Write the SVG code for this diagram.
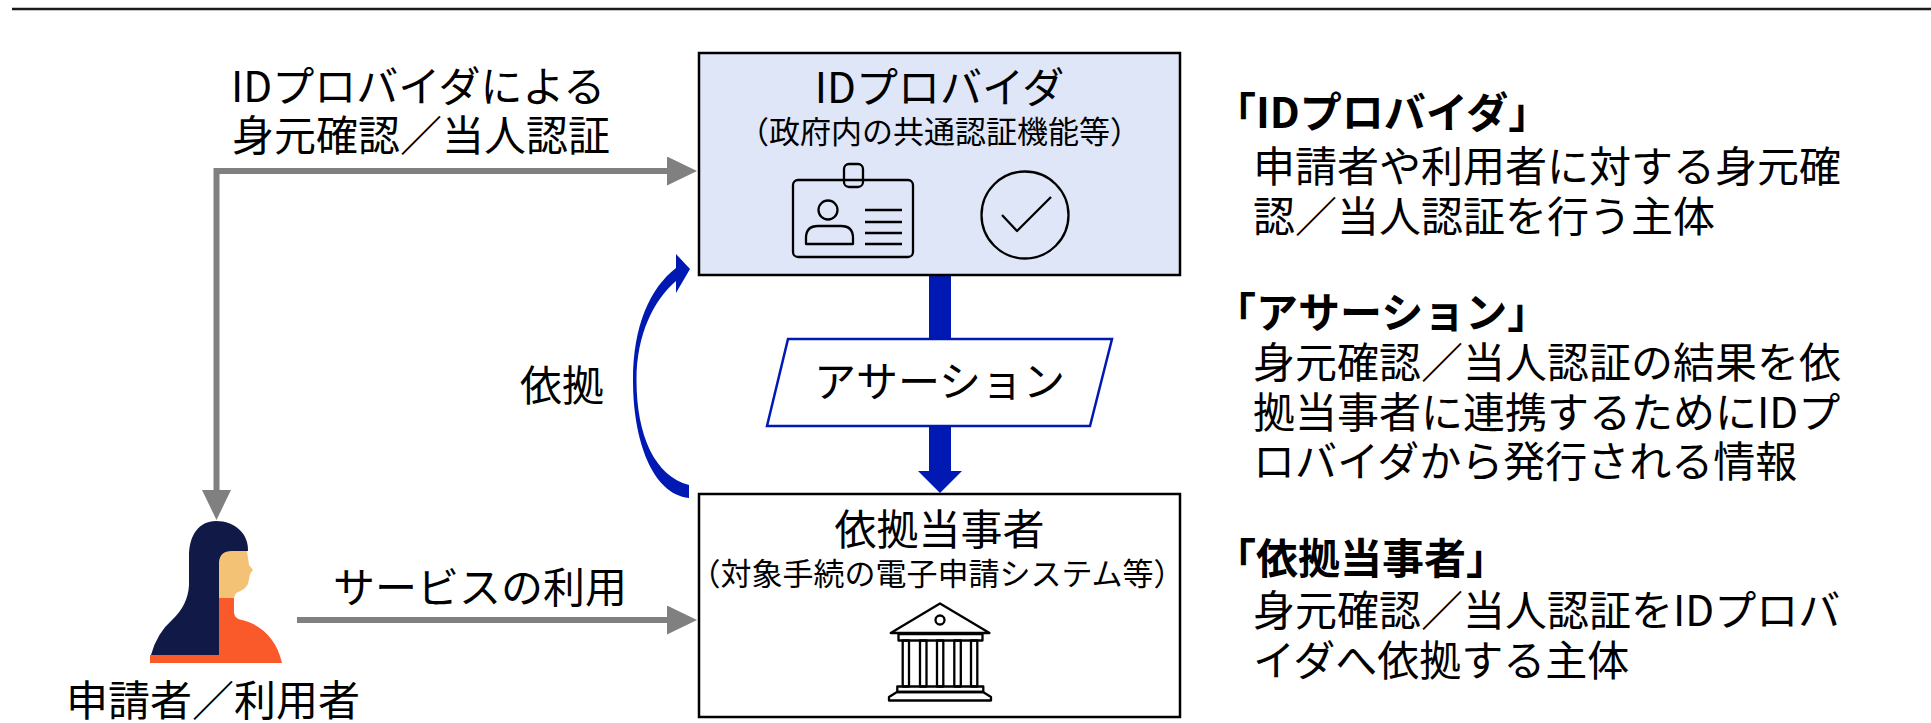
<svg xmlns="http://www.w3.org/2000/svg" width="1931" height="723" viewBox="0 0 1931 723">
  <style>
    text { font-family: "Noto Sans CJK JP", "Noto Sans", sans-serif; fill: #000; }
    .lg { font-size: 42px; }
    .sm { font-size: 31px; }
    .b { font-weight: 700; }
    .mid { text-anchor: middle; }
    .box { stroke: #000; stroke-width: 2.5; }
    .icon { fill: none; stroke: #000; stroke-width: 2.3; stroke-linejoin: round; }
    .gray { fill: none; stroke: #808080; stroke-width: 6; }
    .blue { fill: #0019b3; }
  </style>
  <defs>
    <marker id="grayHead" markerUnits="userSpaceOnUse" viewBox="0 0 30 29" refX="0" refY="14.5" markerWidth="30" markerHeight="29" orient="auto-start-reverse">
      <path d="M0,0 L30,14.5 L0,29 Z" fill="#808080"/>
    </marker>
  </defs>

  <!-- header rule -->
  <line x1="12" y1="9" x2="1931" y2="9" stroke="#1a1a1a" stroke-width="2.5"/>

  <!-- connectors -->
  <g id="connectors">
    <!-- identity proofing / authentication by the IdP (both directions) -->
    <path class="gray" d="M216.5 490 L216.5 171 L667 171" marker-start="url(#grayHead)" marker-end="url(#grayHead)"/>
    <!-- service use -->
    <path class="gray" d="M297 620 L667 620" marker-end="url(#grayHead)"/>
    <!-- assertion flow -->
    <rect class="blue" x="929" y="275" width="22" height="64"/>
    <path class="blue" d="M929 426 L951 426 L951 471 L962 471 L940 493 L918 471 L929 471 Z"/>
    <!-- reliance (curved arrow) -->
    <path class="blue" d="M689 498 C652 494 633 440 633 380 C633 326 650 288 676 268 L676 254 L690 269 L676 293 L676 281 C654 300 636.5 334 636.5 380 C636.5 436 655 476 689 485 Z"/>
  </g>

  <!-- edge labels -->
  <g id="labels">
    <text class="lg" x="231" y="102">IDプロバイダによる</text>
    <text class="lg" x="232" y="151">身元確認／当人認証</text>
    <text class="lg" x="520" y="401">依拠</text>
    <text class="lg" x="333" y="603">サービスの利用</text>
  </g>

  <!-- identity provider -->
  <g id="idp">
    <rect class="box" x="699" y="53" width="481" height="222" fill="#dfe6f8"/>
    <text class="lg mid" x="939.5" y="103">IDプロバイダ</text>
    <text class="sm mid" x="939.5" y="143">（政府内の共通認証機能等）</text>
    <!-- id card -->
    <rect class="icon" x="793" y="180" width="120" height="77" rx="5"/>
    <rect class="icon" x="844" y="164" width="19" height="23" rx="5" fill="#dfe6f8"/>
    <circle class="icon" cx="828" cy="210" r="9.5"/>
    <path class="icon" d="M806 244 L806 238 Q806 226 818 226 L841 226 Q853 226 853 238 L853 244 Z"/>
    <path class="icon" d="M865 210 H902 M865 222 H902 M865 233 H902 M865 244 H902"/>
    <!-- check -->
    <circle class="icon" cx="1025" cy="215" r="43.5"/>
    <path class="icon" d="M1002 215 L1017 231 L1051 197"/>
  </g>

  <!-- assertion -->
  <g id="assertion">
    <polygon points="788,339 1112,339 1090,426 767,426" fill="#fff" stroke="#0019b3" stroke-width="2.5"/>
    <text class="lg mid" x="939.5" y="397">アサーション</text>
  </g>

  <!-- relying party -->
  <g id="rp">
    <rect class="box" x="699" y="494" width="481" height="223" fill="#fff"/>
    <text class="lg mid" x="939.5" y="545">依拠当事者</text>
    <text class="sm mid" x="937" y="585">（対象手続の電子申請システム等）</text>
    <!-- building -->
    <polygon class="icon" points="890.7,633 940,603.5 989.5,633"/>
    <circle class="icon" cx="940" cy="620" r="4.5"/>
    <rect class="icon" x="898.5" y="634" width="84" height="6.5"/>
    <rect class="icon" x="902.7" y="640.5" width="6.3" height="46"/>
    <rect class="icon" x="920" y="640.5" width="6.5" height="46"/>
    <rect class="icon" x="937" y="640.5" width="6.3" height="46"/>
    <rect class="icon" x="954.3" y="640.5" width="6.5" height="46"/>
    <rect class="icon" x="971" y="640.5" width="6.3" height="46"/>
    <rect class="icon" x="897.3" y="686.5" width="86" height="5.5"/>
    <polygon class="icon" points="897,692 983,692 991,697 991,700.5 889,700.5 889,697"/>
  </g>

  <!-- applicant / user -->
  <g id="user">
    <path d="M150 663 L150 655 L219 655 L219 598 L234 598 L234 613 Q235 619 242 620 C262 625 277 640 282 663 Z" fill="#fa5a2a"/>
    <path d="M219 598 L219 562 Q220 551 232 551 L247 551 L249 565 L253 570 L250 574 L248 584 Q245 590 236 593 L234 598 Z" fill="#f3c274"/>
    <path d="M216 521 C235 521 249 534 248 551 L232 551 Q220 551 219 562 L219 655 L151 655 Q157 633 172 620 Q188 605 189 585 L189 556 C189 535 199 521 216 521 Z" fill="#111a47"/>
    <text class="lg" x="66" y="716">申請者／利用者</text>
  </g>

  <!-- glossary -->
  <g id="glossary">
    <text class="lg b" x="1214" y="128">「IDプロバイダ」</text>
    <text class="lg" x="1253" y="182">申請者や利用者に対する身元確</text>
    <text class="lg" x="1253" y="232">認／当人認証を行う主体</text>
    <text class="lg b" x="1214" y="328">「アサーション」</text>
    <text class="lg" x="1253" y="378">身元確認／当人認証の結果を依</text>
    <text class="lg" x="1253" y="428">拠当事者に連携するためにIDプ</text>
    <text class="lg" x="1253" y="477">ロバイダから発行される情報</text>
    <text class="lg b" x="1214" y="574">「依拠当事者」</text>
    <text class="lg" x="1253" y="626">身元確認／当人認証をIDプロバ</text>
    <text class="lg" x="1253" y="676">イダへ依拠する主体</text>
  </g>
</svg>
